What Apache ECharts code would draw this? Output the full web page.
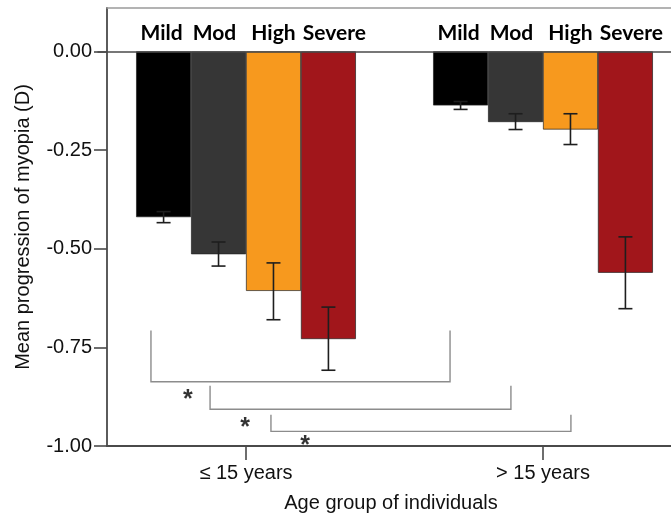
<!DOCTYPE html>
<html><head><meta charset="utf-8">
<script src="https://cdn.jsdelivr.net/npm/echarts@6/dist/echarts.min.js"></script>
<style>html,body{margin:0;padding:0;background:#fff}#c{width:671px;height:523px}</style>
</head><body><div id="c"></div>
<script>
// ---- data ----
const categories = ['≤ 15 years', '> 15 years'];
const seriesNames = ['Mild', 'Mod', 'High', 'Severe'];
const seriesColors = ['#000000', '#363636', '#F7991E', '#A1161B'];
const mildValues = [-0.420, -0.137];
const modValues = [-0.514, -0.179];
const highValues = [-0.607, -0.198];
const severeValues = [-0.729, -0.561];
const mildErrLow = [-0.434, -0.147];
const mildErrHigh = [-0.406, -0.127];
const modErrLow = [-0.544, -0.198];
const modErrHigh = [-0.483, -0.158];
const highErrLow = [-0.680, -0.236];
const highErrHigh = [-0.536, -0.158];
const severeErrLow = [-0.808, -0.652];
const severeErrHigh = [-0.648, -0.470];
const yTicks = [-1, -0.75, -0.5, -0.25, 0];
// significance brackets (x in category units 0..2, y in dioptres)
const bracketLeft = [0.180, 0.379, 0.584];
const bracketRight = [1.187, 1.392, 1.594];
const bracketTop = [-0.707, -0.847, -0.921];
const bracketBottom = [-0.837, -0.907, -0.963];
const starX = [0.304, 0.497, 0.699];
const starY = [-0.865, -0.937, -0.983];
const starText = ['*', '*', '*'];

const values = [mildValues, modValues, highValues, severeValues];
const errLow = [mildErrLow, modErrLow, highErrLow, severeErrLow];
const errHigh = [mildErrHigh, modErrHigh, highErrHigh, severeErrHigh];
const labelShift = [-2, -4, 0, 6];

const GAP = 0.26;
const axisColor = '#4a4a4a';
const sans = '"Liberation Sans", Arial, sans-serif';

const chart = echarts.init(document.getElementById('c'), null, {renderer: 'canvas'});

function errRender(sIdx) {
  return function (params, api) {
    const cat = api.value(0);
    const lo = api.coord([cat, api.value(1)]);
    const hi = api.coord([cat, api.value(2)]);
    const bandW = api.size([1, 0])[0];
    const barW = bandW * (1 - GAP) / 4;
    const x = lo[0] + (sIdx - 1.5) * barW;
    const cap = 7;
    const st = {stroke: '#1e1e1e', lineWidth: 1.6};
    return {type: 'group', children: [
      {type: 'line', shape: {x1: x, y1: hi[1], x2: x, y2: lo[1]}, style: st},
      {type: 'line', shape: {x1: x - cap, y1: hi[1], x2: x + cap, y2: hi[1]}, style: st},
      {type: 'line', shape: {x1: x - cap, y1: lo[1], x2: x + cap, y2: lo[1]}, style: st}
    ]};
  };
}

function bracketRender(params, api) {
  const a = api.coord([api.value(0), api.value(2)]);
  const b = api.coord([api.value(0), api.value(3)]);
  const c = api.coord([api.value(1), api.value(3)]);
  const d = api.coord([api.value(1), api.value(2)]);
  return {type: 'polyline', shape: {points: [a, b, c, d]},
    style: {stroke: '#8c8c8c', lineWidth: 1.4, fill: null}};
}

const series = [];
seriesNames.forEach((name, i) => {
  const s = {
    name: name, type: 'bar', xAxisIndex: 0, yAxisIndex: 0,
    data: values[i], barGap: '0%', barCategoryGap: (GAP * 100) + '%',
    itemStyle: {color: seriesColors[i], borderColor: '#222', borderWidth: 0.7},
    label: {show: true, position: 'top', distance: 8, formatter: '{a}', offset: [labelShift[i], 0],
      fontFamily: 'Lato, "Open Sans", sans-serif', fontWeight: 'bold', fontSize: 21, color: '#000'},
    z: 2
  };
  if (i === 0) {
    s.markLine = {silent: true, symbol: 'none', label: {show: false},
      lineStyle: {color: axisColor, width: 1.6, type: 'solid'},
      data: [{yAxis: 0}], z: 3};
  }
  series.push(s);
  series.push({
    type: 'custom', xAxisIndex: 0, yAxisIndex: 0, z: 5,
    renderItem: errRender(i),
    data: categories.map((c, k) => [k, errLow[i][k], errHigh[i][k]])
  });
});
series.push({
  type: 'custom', xAxisIndex: 1, yAxisIndex: 0, z: 4,
  renderItem: bracketRender,
  data: bracketLeft.map((l, k) => [l, bracketRight[k], bracketTop[k], bracketBottom[k]])
});
series.push({
  type: 'scatter', xAxisIndex: 1, yAxisIndex: 0, symbolSize: 1, z: 6,
  itemStyle: {color: 'rgba(0,0,0,0)'},
  label: {show: true, position: 'inside', formatter: p => starText[p.dataIndex],
    fontFamily: sans, fontWeight: 'bold', fontSize: 25, color: '#000', offset: [0, 7]},
  data: starX.map((x, k) => [x, starY[k]])
});

const option = {
  animation: false,
  backgroundColor: '#fff',
  grid: [
    {left: 97.5, width: 594, top: 8, bottom: 77, outerBoundsMode: 'none', containLabel: false},
    {left: 107, width: 584.5, top: 8, bottom: 77, outerBoundsMode: 'none', containLabel: false}
  ],
  xAxis: [
    {type: 'category', gridIndex: 0, data: categories,
      axisLine: {show: false, onZero: false},
      axisTick: {show: true, alignWithLabel: true, length: 14, lineStyle: {color: axisColor, width: 1.6}},
      axisLabel: {margin: 17, fontFamily: sans, fontSize: 20, color: '#111'},
      name: 'Age group of individuals', nameLocation: 'middle', nameGap: 47,
      nameTextStyle: {fontFamily: sans, fontSize: 20, color: '#111', padding: [0, 7, 0, 0]},
      splitLine: {show: false}},
    {type: 'value', gridIndex: 0, min: 0, max: 2, show: false},
    {type: 'value', gridIndex: 1, min: 0, max: 1, position: 'bottom',
      axisLine: {show: true, onZero: false, lineStyle: {color: axisColor, width: 1.8}},
      axisTick: {show: false}, axisLabel: {show: false}, splitLine: {show: false}},
    {type: 'value', gridIndex: 1, min: 0, max: 1, position: 'top',
      axisLine: {show: true, onZero: false, lineStyle: {color: '#9a9a9a', width: 1.5}},
      axisTick: {show: false}, axisLabel: {show: false}, splitLine: {show: false}}
  ],
  yAxis: [
    {type: 'value', gridIndex: 0, min: -1, max: 0.11, show: false},
    {type: 'value', gridIndex: 1, min: -1, max: 0.11,
      axisLine: {show: true, onZero: false, lineStyle: {color: axisColor, width: 1.8}},
      axisTick: {show: true, length: 13, customValues: yTicks, lineStyle: {color: axisColor, width: 1.6}},
      axisLabel: {margin: 15, customValues: yTicks, formatter: v => v.toFixed(2),
        fontFamily: sans, fontSize: 20, color: '#111'},
      splitLine: {show: false},
      name: 'Mean progression of myopia (D)', nameLocation: 'middle', nameGap: 74,
      nameTextStyle: {fontFamily: sans, fontSize: 20, color: '#111'}}
  ],
  series: series
};
chart.setOption(option);
</script></body></html>
